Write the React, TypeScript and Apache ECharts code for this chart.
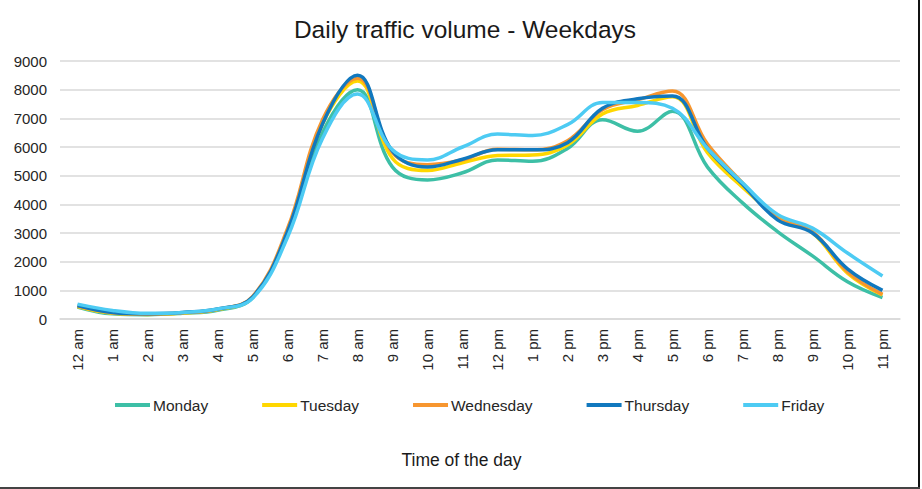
import React, { useEffect, useRef } from "react";
import * as echarts from "echarts";

const hours = [
  "12 am", "1 am", "2 am", "3 am", "4 am", "5 am", "6 am", "7 am", "8 am", "9 am", "10 am", "11 am",
  "12 pm", "1 pm", "2 pm", "3 pm", "4 pm", "5 pm", "6 pm", "7 pm", "8 pm", "9 pm", "10 pm", "11 pm",
];

const monday = [420, 180, 150, 200, 300, 750, 3000, 6500, 8000, 5300, 4850, 5100, 5550, 5500, 5950, 6950, 6550, 7250, 5300, 4050, 3050, 2200, 1300, 750];
const tuesday = [430, 200, 160, 210, 330, 750, 3000, 6800, 8300, 5600, 5180, 5450, 5700, 5720, 6070, 7150, 7450, 7750, 5800, 4600, 3580, 3000, 1600, 840];
const wednesday = [450, 220, 170, 220, 340, 780, 3150, 6950, 8400, 5800, 5380, 5550, 5920, 5900, 6220, 7300, 7650, 7950, 6100, 4750, 3520, 3050, 1650, 860];
const thursday = [470, 230, 180, 230, 350, 760, 3050, 6800, 8500, 5850, 5300, 5575, 5900, 5900, 6150, 7350, 7680, 7780, 5950, 4700, 3460, 3000, 1750, 1000];
const friday = [520, 300, 200, 230, 350, 720, 2850, 6300, 7850, 5900, 5550, 6000, 6450, 6400, 6780, 7550, 7550, 7350, 5950, 4750, 3650, 3170, 2300, 1500];

const seriesNames = ["Monday", "Tuesday", "Wednesday", "Thursday", "Friday"];
const seriesData = [monday, tuesday, wednesday, thursday, friday];
const colors = ["#3DBFA6", "#FFD700", "#F7962F", "#1178BE", "#4DCBF3"];

export default function App() {
  const ref = useRef<HTMLDivElement>(null);
  useEffect(() => {
    if (!ref.current) return;
    const chart = echarts.init(ref.current, null, { renderer: "svg" });
    const font = "'Liberation Sans', Arial, sans-serif";
    chart.setOption({
      animation: false,
      backgroundColor: "#ffffff",
      title: {
        text: "Daily traffic volume - Weekdays",
        left: 460,
        textAlign: "center",
        top: 12,
        textStyle: { fontFamily: font, fontSize: 24.5, fontWeight: "normal", color: "#1a1a1a" },
      },
      legend: {
        data: seriesNames,
        left: 110,
        top: 392,
        icon: "rect",
        itemWidth: 35,
        itemHeight: 4,
        itemGap: 54,
        textStyle: { fontFamily: font, fontSize: 15.5, color: "#262626", padding: [0, 0, 0, -2] },
      },
      grid: { left: 60, right: 22, top: 61, bottom: 170, containLabel: false },
      xAxis: {
        type: "category",
        data: hours,
        boundaryGap: true,
        name: "Time of the day",
        nameLocation: "middle",
        nameGap: 132,
        nameTextStyle: { fontFamily: font, fontSize: 17.5, color: "#1a1a1a", padding: [0, 37, 0, 0] },
        axisLine: { show: true, lineStyle: { color: "#D9D9D9", width: 1.5 } },
        axisTick: { show: false },
        axisLabel: { rotate: 90, interval: 0, margin: 10, fontFamily: font, fontSize: 15, color: "#262626" },
      },
      yAxis: {
        type: "value",
        min: 0,
        max: 9000,
        interval: 1000,
        axisLine: { show: false },
        axisTick: { show: false },
        axisLabel: {
          margin: 13,
          fontFamily: font,
          fontSize: 15,
          color: "#262626",
          formatter: (v: number) => String(v),
        },
        splitLine: { lineStyle: { color: "#D9D9D9", width: 1.5 } },
      },
      series: seriesNames.map((name, i) => ({
        name,
        type: "line",
        data: seriesData[i],
        smooth: 0.4,
        showSymbol: false,
        symbol: "none",
        lineStyle: { color: colors[i], width: 3.5 },
        itemStyle: { color: colors[i] },
      })),
      graphic: [
        { type: "rect", shape: { x: 918, y: 0, width: 2, height: 489 }, style: { fill: "#111111" } },
        { type: "rect", shape: { x: 0, y: 487, width: 920, height: 2 }, style: { fill: "#444444" } },
      ],
    });
    return () => chart.dispose();
  }, []);
  return (
    <div
      ref={ref}
      style={{ position: "fixed", left: 0, top: 0, width: 922, height: 489 }}
    />
  );
}
